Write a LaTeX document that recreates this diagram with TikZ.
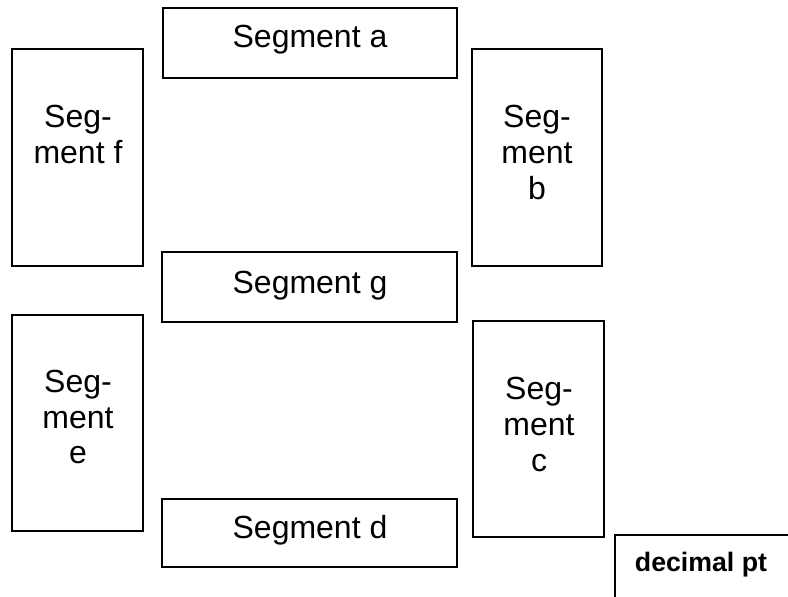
\documentclass[tikz,border=0pt]{standalone}
\usepackage{fontspec}
\setmainfont{Liberation Sans}
\begin{document}
\begin{tikzpicture}[x=1pt,y=-1pt]
\tikzset{
  seg/.style={draw, line width=1.3pt, inner sep=0pt, minimum width=#1},
  lbl/.style={anchor=base, inner sep=0pt, font=\fontsize{32}{36}\selectfont},
  dp/.style={anchor=base, inner sep=0pt, font=\fontsize{26.7}{30}\selectfont\bfseries}
}
\useasboundingbox (0,0) rectangle (788,597);
% boxes
\node[seg=294pt, minimum height=70pt] (a) at (310,43) {};
\node[seg=131pt, minimum height=217pt] (f) at (77.5,157.5) {};
\node[seg=130pt, minimum height=217pt] (b) at (537,157.5) {};
\node[seg=295pt, minimum height=70pt] (g) at (309.5,287) {};
\node[seg=131pt, minimum height=216pt] (e) at (77.5,423) {};
\node[seg=131pt, minimum height=216pt] (c) at (538.5,429) {};
\node[seg=295pt, minimum height=68pt] (d) at (309.5,533) {};
% labels
\node[lbl] (ta) at (310,47) {Segment a};
\node[lbl] (tg) at (310,293) {Segment g};
\node[lbl] (td) at (310,538) {Segment d};
\node[lbl] (tf1) at (78,127) {Seg-};
\node[lbl] (tf2) at (78,163) {ment f};
\node[lbl] (tb1) at (537,127) {Seg-};
\node[lbl] (tb2) at (537,163) {ment};
\node[lbl] (tb3) at (537,199) {b};
\node[lbl] (te1) at (78,392) {Seg-};
\node[lbl] (te2) at (78,428) {ment};
\node[lbl] (te3) at (78,463) {e};
\node[lbl] (tc1) at (539,399) {Seg-};
\node[lbl] (tc2) at (539,435) {ment};
\node[lbl] (tc3) at (539,471) {c};
% decimal point box (cut off by the page edge)
\coordinate (dpbl) at (615,600);
\coordinate (dptl) at (615,535);
\coordinate (dptr) at (790,535);
\draw[line width=1.3pt] (dpbl) -- (dptl) -- (dptr);
\node[dp] (tdp) at (701,571) {decimal pt};
\end{tikzpicture}
\end{document}
